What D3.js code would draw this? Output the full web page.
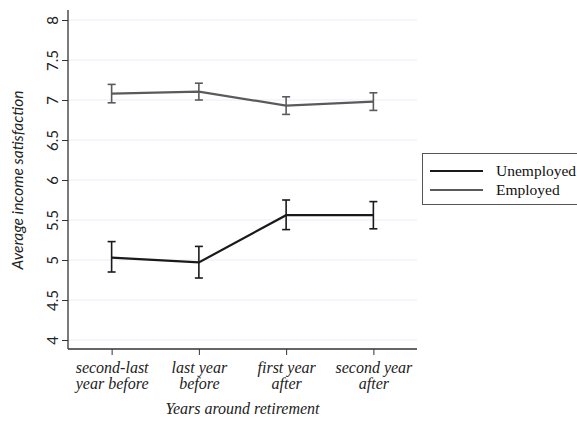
<!DOCTYPE html>
<html><head><meta charset="utf-8">
<script src="https://cdn.jsdelivr.net/npm/d3@7"></script>
<style>body{margin:0;background:#fff;}svg{display:block;}</style>
</head><body>
<svg id="c" width="577" height="421"></svg>
<script>
const categories = [["second-last","year before"],["last year","before"],["first year","after"],["second year","after"]];
const yTicks = [4,4.5,5,5.5,6,6.5,7,7.5,8];
const yTickLabels = ["4","4.5","5","5.5","6","6.5","7","7.5","8"];
const unemployedMean = [5.03,4.97,5.56,5.56];
const unemployedLow  = [4.85,4.775,5.38,5.39];
const unemployedHigh = [5.23,5.17,5.75,5.73];
const employedMean = [7.08,7.105,6.93,6.98];
const employedLow  = [6.965,7.0,6.82,6.87];
const employedHigh = [7.195,7.21,7.04,7.09];
const seriesNames = ["Unemployed","Employed"];

const svg = d3.select("#c");
const L=68, R=417, B=349;
const x = d3.scalePoint().domain(d3.range(categories.length)).range([L,R]).padding(0.5);
const y = d3.scaleLinear().domain([4,8]).range([340,20]);
const serif = "'Liberation Serif','Times New Roman',serif";
const sans = "Lato,'Open Sans',sans-serif";

// grid
svg.append("g").selectAll("line").data(yTicks).join("line")
  .attr("x1",L).attr("x2",R).attr("y1",d=>y(d)).attr("y2",d=>y(d))
  .attr("stroke","#e8f0f7").attr("stroke-width",1.2);

// y axis
const ya = svg.append("g").attr("transform",`translate(${L},0)`)
  .call(d3.axisLeft(y).tickValues(yTicks).tickFormat((d,i)=>yTickLabels[i]).tickSizeOuter(0).tickSize(6));
ya.select(".domain").remove();
ya.append("line").attr("x1",0).attr("x2",0).attr("y1",10).attr("y2",B).attr("stroke","#333").attr("stroke-width",1.3);
ya.selectAll(".tick line").attr("stroke","#333");
ya.selectAll(".tick text").attr("transform","rotate(-90)").attr("x",0).attr("y",-10)
  .attr("dy","0").attr("text-anchor","middle").attr("font-family",sans).attr("font-size",15).attr("fill","#222");

// x axis
const xa = svg.append("g").attr("transform",`translate(0,${B})`)
  .call(d3.axisBottom(x).tickSize(6).tickSizeOuter(0).tickFormat(""));
xa.select(".domain").remove();
xa.append("line").attr("x1",L).attr("x2",R).attr("y1",0).attr("y2",0).attr("stroke","#333").attr("stroke-width",1.3);
xa.selectAll(".tick line").attr("stroke","#333");
xa.selectAll(".tick").each(function(d){
  const t = d3.select(this).append("text").attr("font-family",serif).attr("font-style","italic")
    .attr("font-size",16).attr("fill","#222").attr("text-anchor","middle");
  categories[d].forEach((s,i)=>t.append("tspan").attr("x",0).attr("y",24+i*16).text(s));
});

// titles
svg.append("text").attr("transform",`translate(23,${(20+340)/2}) rotate(-90)`)
  .attr("text-anchor","middle").attr("font-family",sans).attr("font-style","italic").attr("font-size",15.5)
  .attr("fill","#222").text("Average income satisfaction");
svg.append("text").attr("x",(L+R)/2).attr("y",414).attr("text-anchor","middle")
  .attr("font-family",serif).attr("font-style","italic").attr("font-size",16).attr("fill","#222")
  .text("Years around retirement");

function drawSeries(mean, lo, hi, color){
  const g = svg.append("g");
  const idx = d3.range(mean.length);
  g.append("path").datum(idx).attr("fill","none").attr("stroke",color).attr("stroke-width",2.2)
    .attr("d", d3.line().x(i=>x(i)).y(i=>y(mean[i])));
  idx.forEach(i=>{
    const cx = x(i);
    g.append("line").attr("x1",cx).attr("x2",cx).attr("y1",y(lo[i])).attr("y2",y(hi[i])).attr("stroke",color).attr("stroke-width",1.6);
    [lo[i],hi[i]].forEach(v=>g.append("line").attr("x1",cx-4).attr("x2",cx+4).attr("y1",y(v)).attr("y2",y(v)).attr("stroke",color).attr("stroke-width",1.6));
  });
}
drawSeries(employedMean, employedLow, employedHigh, "#5a5a5a");
drawSeries(unemployedMean, unemployedLow, unemployedHigh, "#1a1a1a");

// legend
const lg = svg.append("g");
lg.append("rect").attr("x",422.5).attr("y",153.5).attr("width",160).attr("height",51)
  .attr("fill","#fff").attr("stroke","#555").attr("stroke-width",1);
const lcol = ["#1a1a1a","#5a5a5a"];
seriesNames.forEach((n,i)=>{
  const yy = 171 + i*19;
  lg.append("line").attr("x1",430).attr("x2",483).attr("y1",yy).attr("y2",yy).attr("stroke",lcol[i]).attr("stroke-width",2.2);
  lg.append("text").attr("x",496).attr("y",yy+5).attr("font-family",serif).attr("font-size",15.5).attr("fill","#111").text(n);
});
</script>
</body></html>
